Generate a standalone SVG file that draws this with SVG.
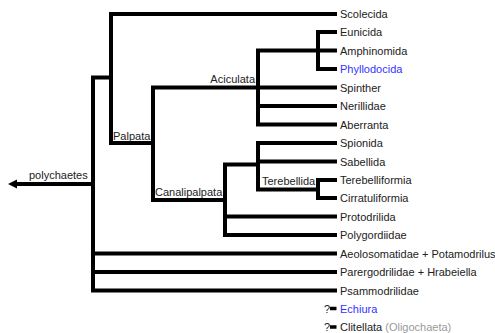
<svg xmlns="http://www.w3.org/2000/svg" width="495" height="333" viewBox="0 0 495 333">
<style>
.l{fill:none;stroke:#000;stroke-width:4;stroke-linecap:butt;stroke-linejoin:miter}
text{font-family:"Liberation Sans",Arial,sans-serif;font-size:11px;fill:#222}
.b{fill:#3333ff}
.g{fill:#999}
</style>
<rect width="495" height="333" fill="#fff"/>
<g id="connectors">
<path class="l" d="M17 184H93"/>
<polygon points="8,184 17,179.5 17,188.5" fill="#000"/>
<path class="l" d="M111 77.5H93V290.5H337M93 253.5H337M93 272H337"/>
<path class="l" d="M337 14H111V143H153"/>
<path class="l" d="M258 87.5H153V200H225"/>
<path class="l" d="M318 50.5H258V124.5H337M258 87.5H337M258 106H337"/>
<path class="l" d="M337 32H318V69H337M318 50.5H337"/>
<path class="l" d="M258 164.5H225V235H337M225 216.5H337"/>
<path class="l" d="M337 143H258V189.5H318M258 161.5H337"/>
<path class="l" d="M337 180H318V198H337"/>
<path class="l" d="M330 308.5H336.5M330 327H336.5" style="stroke-width:3.5"/>
</g>
<g id="labels">
<text x="29" y="179">polychaetes</text>
<text x="113" y="139.5">Palpata</text>
<text x="255" y="83" text-anchor="end">Aciculata</text>
<text x="155" y="196">Canalipalpata</text>
<text x="262" y="185">Terebellida</text>
</g>
<g id="n-scolecida"><text x="340" y="18">Scolecida</text></g>
<g id="n-eunicida"><text x="340" y="36">Eunicida</text></g>
<g id="n-amphinomida"><text x="340" y="54.5">Amphinomida</text></g>
<g id="n-phyllodocida"><text class="b" x="340" y="73">Phyllodocida</text></g>
<g id="n-spinther"><text x="340" y="91.5">Spinther</text></g>
<g id="n-nerillidae"><text x="340" y="110">Nerillidae</text></g>
<g id="n-aberranta"><text x="340" y="128.5">Aberranta</text></g>
<g id="n-spionida"><text x="340" y="147">Spionida</text></g>
<g id="n-sabellida"><text x="340" y="165.5">Sabellida</text></g>
<g id="n-terebelliformia"><text x="340" y="184">Terebelliformia</text></g>
<g id="n-cirratuliformia"><text x="340" y="202">Cirratuliformia</text></g>
<g id="n-protodrilida"><text x="340" y="220.5">Protodrilida</text></g>
<g id="n-polygordiidae"><text x="340" y="239">Polygordiidae</text></g>
<g id="n-aeolosomatidae"><text x="340" y="257.5">Aeolosomatidae + Potamodrilus</text></g>
<g id="n-parergodrilidae"><text x="340" y="276">Parergodrilidae + Hrabeiella</text></g>
<g id="n-psammodrilidae"><text x="340" y="294.5">Psammodrilidae</text></g>
<g id="n-echiura"><text x="324" y="312.5">?</text><text class="b" x="340" y="312.5">Echiura</text></g>
<g id="n-clitellata"><text x="324" y="331">?</text><text x="340" y="331">Clitellata <tspan class="g">(Oligochaeta)</tspan></text></g>
</svg>
